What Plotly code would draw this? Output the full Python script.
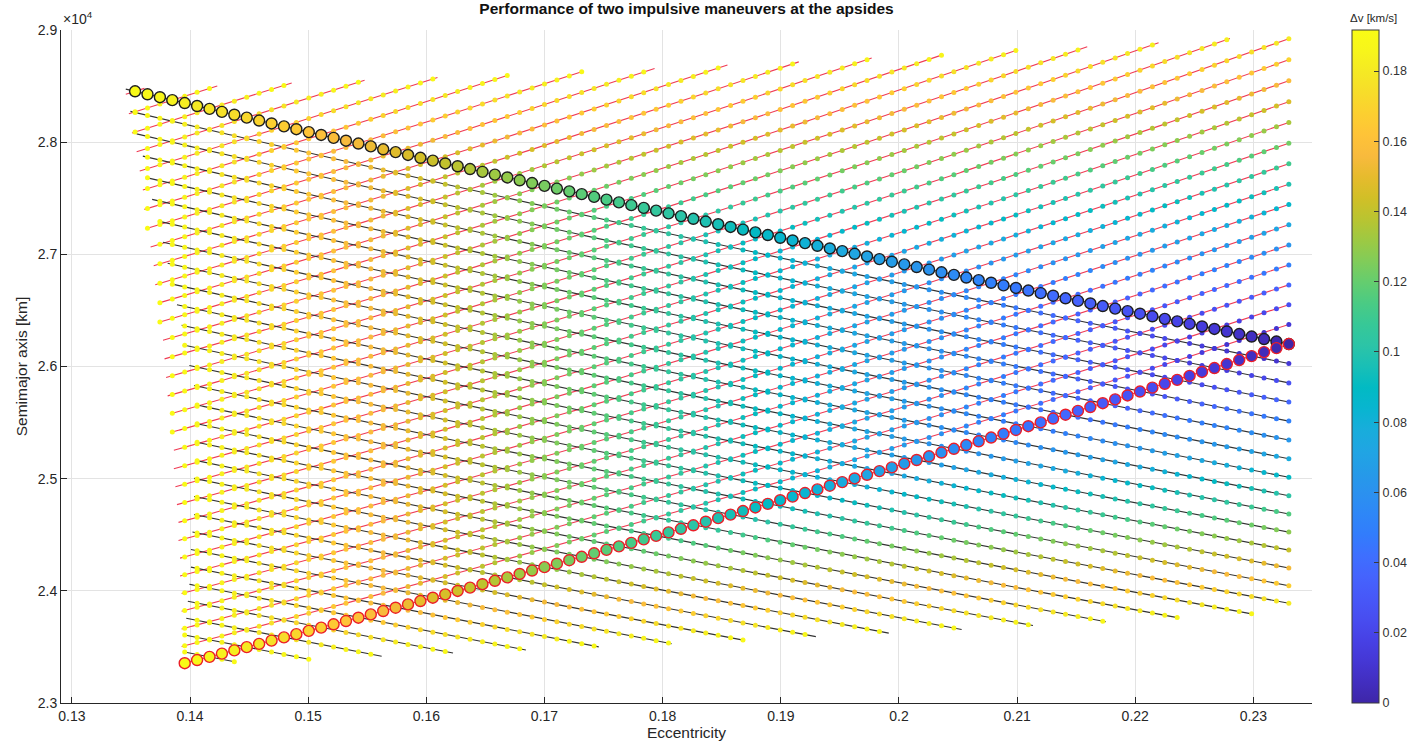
import numpy as np
import plotly.graph_objects as go

# ---- values ----
MU = 398600.4418                 # km^3/s^2
A0 = 26200.0                     # initial semimajor axis [km] (meeting point of the two circle rows)
E0 = 0.2330                      # initial eccentricity (right edge of the data)
DV_BUDGET = 0.1917               # largest delta-v [km/s] (top of colour bar)
E_STEP = 0.00105                 # spacing of the marker columns in eccentricity
N_COLS = 96
SUB = 8                          # line samples per marker step
W_RED = 0.09                     # extra weight on apogee-raising burn (red family)
W_BLACK = 0.05                   # extra weight on the smaller burn (black family)

# red lines (constant perigee) pass through every third circle of the upper row
red_circle_idx = [0, 3, 6, 9, 12, 15, 18, 21, 24, 27, 30, 33, 36, 39, 42, 45,
                  48, 51, 54, 57, 60, 63, 66, 69, 72, 75, 78, 81, 84, 87, 90, 93]
# black lines (constant apogee) pass through every third circle of the lower row
black_circle_idx = [0, 3, 6, 9, 12, 15, 18, 21, 24, 27, 30, 33, 36, 39, 42,
                    45, 48, 51, 54, 57, 60, 63, 66, 69, 72, 75, 78, 81, 84, 87]

x_ticks = [0.13, 0.14, 0.15, 0.16, 0.17, 0.18, 0.19, 0.20, 0.21, 0.22, 0.23]
x_ticktext = ["0.13", "0.14", "0.15", "0.16", "0.17", "0.18", "0.19", "0.2", "0.21", "0.22", "0.23"]
y_ticks = [23000, 24000, 25000, 26000, 27000, 28000, 29000]
y_ticktext = ["2.3", "2.4", "2.5", "2.6", "2.7", "2.8", "2.9"]
cb_ticks = [0, 0.02, 0.04, 0.06, 0.08, 0.10, 0.12, 0.14, 0.16, 0.18]
cb_ticktext = ["0", "0.02", "0.04", "0.06", "0.08", "0.1", "0.12", "0.14", "0.16", "0.18"]

parula = [
    (0.2422, 0.1504, 0.6603), (0.2578, 0.1818, 0.7511), (0.2706, 0.2147, 0.8364), (0.2783, 0.2559, 0.8991),
    (0.2813, 0.3006, 0.9414), (0.2795, 0.3447, 0.9717), (0.2699, 0.3892, 0.9906), (0.2440, 0.4358, 0.9988),
    (0.1963, 0.4847, 0.9892), (0.1786, 0.5289, 0.9682), (0.1687, 0.5703, 0.9359), (0.1460, 0.6091, 0.9079),
    (0.1248, 0.6459, 0.8883), (0.0952, 0.6798, 0.8598), (0.0297, 0.7082, 0.8163), (0.0067, 0.7312, 0.7660),
    (0.0964, 0.7500, 0.7120), (0.1717, 0.7670, 0.6554), (0.2161, 0.7843, 0.5923), (0.2906, 0.7973, 0.5188),
    (0.3909, 0.8029, 0.4354), (0.5044, 0.7993, 0.3480), (0.6174, 0.7876, 0.2612), (0.7242, 0.7698, 0.1910),
    (0.8203, 0.7498, 0.1535), (0.9035, 0.7330, 0.1774), (0.9728, 0.7298, 0.2394), (0.9970, 0.7659, 0.2199),
    (0.9892, 0.8136, 0.1885), (0.9676, 0.8639, 0.1643), (0.9597, 0.9135, 0.1423), (0.9691, 0.9606, 0.1064),
    (0.9769, 0.9839, 0.0805)]
colorscale = [[i / (len(parula) - 1), "rgb(%d,%d,%d)" % tuple(int(round(c * 255)) for c in col)]
              for i, col in enumerate(parula)]

# ---- orbit relations ----
rp0 = A0 * (1 - E0)
ra0 = A0 * (1 + E0)


def v_apo(rp, ra):
    return np.sqrt(2 * MU * rp / (ra * (ra + rp)))


def v_peri(rp, ra):
    return np.sqrt(2 * MU * ra / (rp * (ra + rp)))


def burns(rp, ra):
    d1 = v_peri(rp0, ra) - v_peri(rp0, ra0)     # burn 1 at perigee sets the apogee
    d2 = v_apo(rp, ra) - v_apo(rp0, ra)         # burn 2 at apogee sets the perigee
    return d1, d2


k_fine = np.arange(N_COLS * SUB)
e_f = E0 - k_fine * E_STEP / SUB
is_dot = (k_fine % SUB) == 0


def circle_e(k):
    return E0 - k * E_STEP


def build(kind):
    out = []
    idx = red_circle_idx if kind == "red" else black_circle_idx
    for k in idx:
        ek = circle_e(k)
        if kind == "red":
            rp = ra0 * (1 - ek) / (1 + ek) * np.ones_like(e_f)
            ra = rp * (1 + e_f) / (1 - e_f)
        else:
            ra = rp0 * (1 + ek) / (1 - ek) * np.ones_like(e_f)
            rp = ra * (1 - e_f) / (1 + e_f)
        a = (rp + ra) / 2
        d1, d2 = burns(rp, ra)
        dv = np.abs(d1) + np.abs(d2)
        if kind == "red":
            cost = dv + W_RED * np.maximum(d1, 0)
        else:
            cost = dv + W_BLACK * np.minimum(np.abs(d1), np.abs(d2))
        m = cost <= DV_BUDGET
        if m.any():
            out.append(dict(e=e_f[m], a=a[m], dv=dv[m], dot=is_dot[m]))
    return out


red_lines = build("red")
black_lines = build("black")


def join(lines):
    xs, ys = [], []
    for ln in lines:
        xs += list(ln["e"]) + [None]
        ys += list(ln["a"]) + [None]
    return xs, ys


fig = go.Figure()
rx, ry = join(red_lines)
bx, by = join(black_lines)
fig.add_trace(go.Scatter(x=rx, y=ry, mode="lines", line=dict(color="rgb(240,60,85)", width=1.1),
                         hoverinfo="skip"))
fig.add_trace(go.Scatter(x=bx, y=by, mode="lines", line=dict(color="rgb(50,50,50)", width=1.1),
                         hoverinfo="skip"))

dx, dy, dc = [], [], []
for ln in red_lines + black_lines:
    dx += list(ln["e"][ln["dot"]])
    dy += list(ln["a"][ln["dot"]])
    dc += list(ln["dv"][ln["dot"]])
cmax = DV_BUDGET
fig.add_trace(go.Scatter(
    x=dx, y=dy, mode="markers",
    marker=dict(size=5, color=dc, colorscale=colorscale, cmin=0, cmax=cmax, line=dict(width=0),
                colorbar=dict(x=1.032, xanchor="left", xref="paper", y=0.5, yanchor="middle", len=1.0,
                              lenmode="fraction", thickness=27, xpad=0, ypad=0,
                              outlinecolor="#3a3a3a", outlinewidth=1,
                              tickvals=cb_ticks, ticktext=cb_ticktext, ticks="inside", ticklen=5,
                              tickcolor="#3a3a3a", tickfont=dict(size=12.5, color="#333333"))),
    hoverinfo="skip"))

# single-burn cases shown with large circles
up, lo = black_lines[0], red_lines[0]
fig.add_trace(go.Scatter(
    x=up["e"][up["dot"]], y=up["a"][up["dot"]], mode="markers",
    marker=dict(size=11, color=up["dv"][up["dot"]], colorscale=colorscale, cmin=0, cmax=cmax,
                line=dict(color="rgb(30,30,30)", width=1.4)), hoverinfo="skip"))
fig.add_trace(go.Scatter(
    x=lo["e"][lo["dot"]], y=lo["a"][lo["dot"]], mode="markers",
    marker=dict(size=11, color=lo["dv"][lo["dot"]], colorscale=colorscale, cmin=0, cmax=cmax,
                line=dict(color="rgb(235,30,40)", width=1.4)), hoverinfo="skip"))

axis_common = dict(showgrid=True, gridcolor="#e3e3e3", gridwidth=1, zeroline=False, showline=True,
                   linecolor="#262626", linewidth=1, ticks="inside", ticklen=6, tickcolor="#262626",
                   tickfont=dict(size=14, color="#262626"), mirror=False)

fig.update_layout(
    width=1408, height=750, margin=dict(l=61, r=96, t=30, b=47, autoexpand=False),
    plot_bgcolor="white", paper_bgcolor="white", showlegend=False,
    font=dict(family="Liberation Sans, Arial, sans-serif", color="#262626"),
    title=dict(text="<b>Performance of two impulsive maneuvers at the apsides</b>",
               x=(61 + 1312) / 2 / 1408, xanchor="center", y=1 - 9 / 750, yanchor="middle",
               font=dict(size=15.5, color="#111111")),
    xaxis=dict(range=[0.12908, 0.23496], tickvals=x_ticks, ticktext=x_ticktext,
               title=dict(text="Eccentricity", font=dict(size=15.5, color="#262626"), standoff=4),
               **axis_common),
    yaxis=dict(range=[23000, 29000], tickvals=y_ticks, ticktext=y_ticktext,
               title=dict(text="Semimajor axis [km]", font=dict(size=15.5, color="#262626"), standoff=6),
               **axis_common),
    annotations=[
        dict(text="\u00d710<sup>4</sup>", xref="paper", yref="paper", x=0.0, y=1.0, xanchor="left",
             yanchor="bottom", yshift=1, showarrow=False, font=dict(size=14, color="#262626")),
        dict(text="\u0394v [km/s]", xref="paper", yref="paper", x=1.032, y=1.0, xanchor="left",
             yanchor="bottom", yshift=4, xshift=-4, showarrow=False, font=dict(size=11.5, color="#262626")),
    ],
)

fig.write_html("out.html")
